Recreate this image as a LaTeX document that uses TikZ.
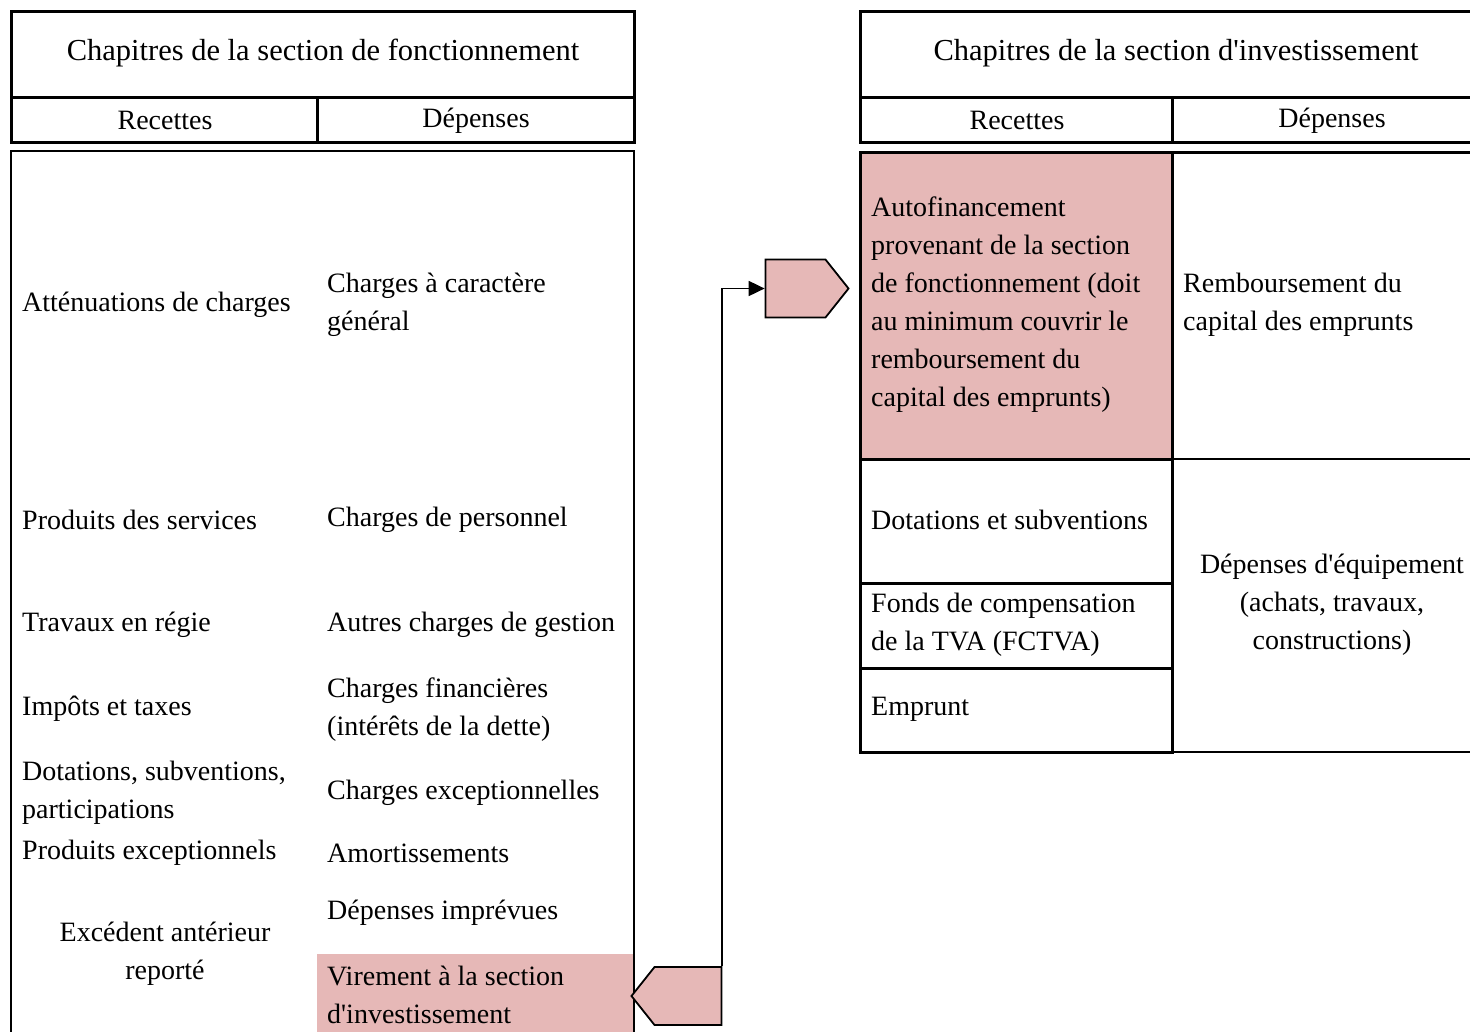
\documentclass[tikz,border=0pt]{standalone}
\usepackage{fontspec}
\setmainfont{Liberation Serif}
\usetikzlibrary{arrows.meta,shapes.symbols}
\definecolor{rose}{HTML}{E6B8B7}
\newcommand{\apo}{\textquotesingle}
\tikzset{
  txt/.style={anchor=west,inner sep=0pt,align=left,font=\fontsize{28}{38}\selectfont},
  ctxt/.style={txt,anchor=center,align=center},
  titre/.style={ctxt,font=\fontsize{30.5}{38}\selectfont},
  box/.style={line width=3pt},
  thin/.style={line width=1.8pt},
  flag/.style={draw,fill=rose,line width=1.8pt,shape=signal,signal from=nowhere,
    signal pointer angle=103,inner sep=0pt,minimum height=58pt}
}
\begin{document}
\begin{tikzpicture}[x=1pt,y=-1pt]
    \useasboundingbox (0,0) rectangle (1470,1031);
    % section de fonctionnement
    \begin{scope}
      \fill[rose] (317,954) rectangle (634,1040);
      \draw[box] (11,11) rectangle (634,97);
      \draw[box] (11,97) rectangle (634,142) (317,97) -- (317,142);
      \draw[thin] (11,1040) -- (11,151) -- (634,151) -- (634,1040);
      \node[titre] (titreF) at (323,53) {Chapitres de la section de fonctionnement};
      \node[ctxt] (recF) at (165,120) {Recettes};
      \node[ctxt] (depF) at (476,121) {Dépenses};
      \node[txt] (r1) at (22,305) {Atténuations de charges};
      \node[txt] (r2) at (22,520) {Produits des services};
      \node[txt] (r3) at (22,625) {Travaux en régie};
      \node[txt] (r4) at (22,709) {Impôts et taxes};
      \node[txt] (r5) at (22,793) {Dotations, subventions,\\participations};
      \node[txt] (r6) at (22,853) {Produits exceptionnels};
      \node[ctxt] (r7) at (165,954) {Excédent antérieur\\reporté};
      \node[txt] (d1) at (327,305) {Charges à caractère\\général};
      \node[txt] (d2) at (327,520) {Charges de personnel};
      \node[txt] (d3) at (327,625) {Autres charges de gestion};
      \node[txt] (d4) at (327,710) {Charges financières\\(intérêts de la dette)};
      \node[txt] (d5) at (327,793) {Charges exceptionnelles};
      \node[txt] (d6) at (327,853) {Amortissements};
      \node[txt] (d7) at (327,913) {Dépenses imprévues};
      \node[txt] (d8) at (327,995) {Virement à la section\\d\apo investissement};
    \end{scope}
    % section d'investissement
    \begin{scope}
      \fill[rose] (860,152) rectangle (1172,459);
      \draw[box] (1480,11) -- (860,11) -- (860,97) -- (1480,97);
      \draw[box] (860,97) -- (860,142) -- (1480,142) (1172,97) -- (1172,142);
      \draw[box] (860,152) rectangle (1172,752);
      \draw[box] (860,459) -- (1172,459) (860,583) -- (1172,583) (860,668) -- (1172,668);
      \draw[box] (1172,152) -- (1480,152);
      \draw[thin] (1172,459) -- (1480,459) (1172,752) -- (1480,752);
      \node[titre] (titreI) at (1176,53) {Chapitres de la section d\apo investissement};
      \node[ctxt] (recI) at (1017,120) {Recettes};
      \node[ctxt] (depI) at (1332,121) {Dépenses};
      \node[txt] (ri1) at (871,305) {Autofinancement\\provenant de la section\\de fonctionnement (doit\\au minimum couvrir le\\remboursement du\\capital des emprunts)};
      \node[txt] (ri2) at (871,520) {Dotations et subventions};
      \node[txt] (ri3) at (871,625) {Fonds de compensation\\de la TVA (FCTVA)};
      \node[txt] (ri4) at (871,709) {Emprunt};
      \node[txt] (di1) at (1183,305) {Remboursement du\\capital des emprunts};
      \node[ctxt] (di2) at (1332,605) {Dépenses d\apo équipement\\(achats, travaux,\\constructions)};
    \end{scope}
    % virement
    \node[flag,signal to=west,minimum width=90pt] (vir) at (688,996) {};
    \node[flag,signal to=east,minimum width=83pt] (autof) at (795.5,288.5) {};
    \draw[thin,-{Triangle[length=16pt,width=15pt]}] (vir.north east) |- (autof.west);
\end{tikzpicture}
\end{document}
